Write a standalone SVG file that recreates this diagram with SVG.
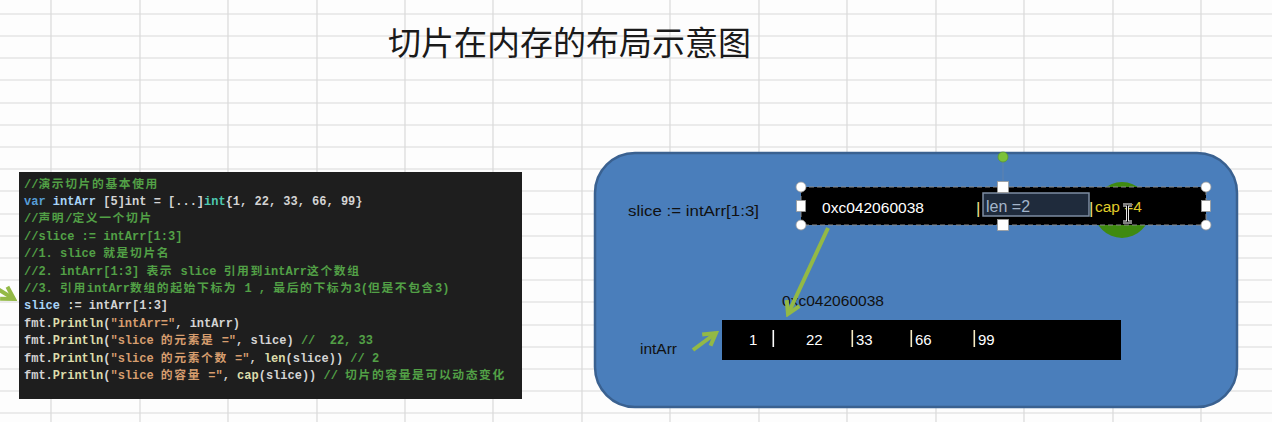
<svg xmlns="http://www.w3.org/2000/svg" width="1272" height="422" viewBox="0 0 1272 422">
<style>
.grid{stroke:#dadada;stroke-width:1.2;fill:none}
.code{font-family:"Liberation Mono","Noto Sans CJK SC",monospace;font-size:12px;font-weight:bold;fill:#d4d4d4}
.c{font-family:"Noto Sans CJK SC",sans-serif;font-size:11.8px;letter-spacing:1.6px;font-weight:bold}
.cm{fill:#52a046}
.kw{fill:#569cd6}
.id{fill:#a9d4f7}
.ty{fill:#4ec9b0}
.fn{fill:#dcdcaa}
.st{fill:#d69d6e}
.lbl{font-family:"Liberation Sans","Open Sans",sans-serif;font-size:15.5px;fill:#111}
.wt{font-family:"Liberation Sans","Open Sans",sans-serif;font-size:15.5px;fill:#fff}
.arr{stroke:#93b946;stroke-width:4;fill:none}
.hc{fill:#fff;stroke:#9a9a9a;stroke-width:0.8}
</style>
<defs>
<marker id="ah" viewBox="-15 -10 18 20" refX="0" refY="0" markerWidth="18" markerHeight="20" orient="auto" markerUnits="userSpaceOnUse">
<path d="M-12,-7 L0,0 L-12,7" fill="none" stroke="#93b946" stroke-width="4"/>
</marker>
</defs>
<rect width="1272" height="422" fill="#fdfdfd"/>
<g id="grid" class="grid">
<path d="M51,0V422M140,0V422M228,0V422M317,0V422M405,0V422M493,0V422M582,0V422M670,0V422M759,0V422M847,0V422M936,0V422M1024,0V422M1113,0V422M1201,0V422"/>
<path d="M0,14H1272M0,36H1272M0,58H1272M0,80H1272M0,103H1272M0,125H1272M0,147H1272M0,169H1272M0,191H1272M0,214H1272M0,236H1272M0,258H1272M0,280H1272M0,302H1272M0,325H1272M0,347H1272M0,369H1272M0,391H1272M0,413H1272"/>
</g>
<text id="title" x="388" y="55" font-family="'Noto Sans CJK SC',sans-serif" font-size="33" fill="#1a1a1a">切片在内存的布局示意图</text>
<g id="code">
<rect x="19" y="172" width="503" height="227" fill="#1e1e1e"/>
<text class="code" x="24" y="187.5"><tspan class="cm">//</tspan><tspan class="c cm">演示切片的基本使用</tspan></text>
<text class="code" x="24" y="205"><tspan class="kw">var</tspan> <tspan class="id">intArr</tspan> [5]int = [...]<tspan class="ty">int</tspan>{1, 22, 33, 66, 99}</text>
<text class="code" x="24" y="222.3"><tspan class="cm">//</tspan><tspan class="c cm">声明</tspan><tspan class="cm">/</tspan><tspan class="c cm">定义一个切片</tspan></text>
<text class="code" x="24" y="239.7"><tspan class="cm">//slice := intArr[1:3]</tspan></text>
<text class="code" x="24" y="257.1"><tspan class="cm">//1. slice </tspan><tspan class="c cm">就是切片名</tspan></text>
<text class="code" x="24" y="274.5"><tspan class="cm">//2. intArr[1:3] </tspan><tspan class="c cm">表示</tspan><tspan class="cm"> slice </tspan><tspan class="c cm">引用到</tspan><tspan class="cm">intArr</tspan><tspan class="c cm">这个数组</tspan></text>
<text class="code" x="24" y="291.9"><tspan class="cm">//3. </tspan><tspan class="c cm">引用</tspan><tspan class="cm">intArr</tspan><tspan class="c cm">数组的起始下标为</tspan><tspan class="cm"> 1 , </tspan><tspan class="c cm">最后的下标为</tspan><tspan class="cm">3(</tspan><tspan class="c cm">但是不包含</tspan><tspan class="cm">3)</tspan></text>
<text class="code" x="24" y="309.3"><tspan class="id">slice</tspan> := intArr[1:3]</text>
<text class="code" x="24" y="326.7">fmt.<tspan class="fn">Println</tspan>(<tspan class="st">"intArr="</tspan>, intArr)</text>
<text class="code" x="24" y="344.1">fmt.<tspan class="fn">Println</tspan>(<tspan class="st">"slice </tspan><tspan class="c st">的元素是</tspan><tspan class="st"> ="</tspan>, slice) <tspan class="cm">//&#160; 22, 33</tspan></text>
<text class="code" x="24" y="361.5">fmt.<tspan class="fn">Println</tspan>(<tspan class="st">"slice </tspan><tspan class="c st">的元素个数</tspan><tspan class="st"> ="</tspan>, <tspan class="fn">len</tspan>(slice)) <tspan class="cm">// 2</tspan></text>
<text class="code" x="24" y="378.9">fmt.<tspan class="fn">Println</tspan>(<tspan class="st">"slice </tspan><tspan class="c st">的容量</tspan><tspan class="st"> ="</tspan>, <tspan class="fn">cap</tspan>(slice)) <tspan class="cm">// </tspan><tspan class="c cm">切片的容量是可以动态变化</tspan></text>
</g>
<g id="memory">
<rect x="595" y="153" width="642" height="254" rx="40" ry="40" fill="#4a7ebb" stroke="#3a6190" stroke-width="2.5"/>
</g>
<g id="slice-label">
<text class="lbl" x="628" y="216" textLength="131" lengthAdjust="spacingAndGlyphs">slice := intArr[1:3]</text>
</g>
<g id="slice">
<line x1="1003" y1="157" x2="1003" y2="187" stroke="#5f82ad" stroke-width="1"/>
<circle cx="1122" cy="210" r="28" fill="#3f8a10"/>
<rect x="801" y="187" width="405" height="38" fill="#000"/>
<rect x="801" y="187" width="405" height="38" fill="none" stroke="#8a8a8a" stroke-width="1" stroke-dasharray="5 3"/>
<text class="wt" x="822" y="213" textLength="102" lengthAdjust="spacingAndGlyphs">0xc042060038</text>
<text x="976" y="214" font-family="'Liberation Sans',sans-serif" font-size="17" fill="#efe08a">|</text>
<rect x="983" y="193" width="106" height="23" fill="#1f2b3c" stroke="#7d8da2" stroke-width="1.5"/>
<text x="986" y="212" font-family="'Liberation Sans',sans-serif" font-size="16" fill="#a3b4ca">len =2</text>
<text x="1089" y="214" font-family="'Liberation Sans',sans-serif" font-size="17" fill="#efe08a">|</text>
<text x="1095" y="212" font-family="'Liberation Sans',sans-serif" font-size="15.5" fill="#e0cd2a">cap =4</text>
<path d="M1123,205H1132M1127.5,205V222M1123,222H1132" stroke="#fff" stroke-width="3" fill="none"/>
<path d="M1123,205H1132M1127.5,205V222M1123,222H1132" stroke="#000" stroke-width="1.2" fill="none"/>
<circle cx="1003" cy="157" r="5" fill="#7cc23a" stroke="#5c9a2a" stroke-width="0.8"/>
<circle class="hc" cx="801" cy="187" r="5"/>
<circle class="hc" cx="1206" cy="187" r="5"/>
<circle class="hc" cx="801" cy="225" r="5"/>
<circle class="hc" cx="1206" cy="225" r="5"/>
<rect class="hc" x="997.5" y="181.5" width="11" height="11"/>
<rect class="hc" x="997.5" y="219.5" width="11" height="11"/>
<rect class="hc" x="796.5" y="200.5" width="9" height="11"/>
<rect class="hc" x="1201.5" y="200.5" width="9" height="11"/>
</g>
<g id="intArr-address">
<text class="lbl" x="782" y="306" textLength="102" lengthAdjust="spacingAndGlyphs">0xc042060038</text>
</g>
<g id="intArr-label">
<text class="lbl" x="640" y="354">intArr</text>
</g>
<g id="intArr">
<rect x="722" y="320" width="399" height="40" fill="#000"/>
<g font-family="'Liberation Sans',sans-serif" font-size="15" fill="#fff">
<text x="749" y="345">1</text>
<rect x="772.5" y="330" width="1.6" height="17" fill="#fff"/>
<text x="806" y="345">22</text>
<rect x="851.5" y="330" width="1.6" height="17" fill="#f7ecc4"/><text x="856" y="345">33</text>
<rect x="910.5" y="330" width="1.6" height="17" fill="#f7ecc4"/><text x="915" y="345">66</text>
<rect x="973.5" y="330" width="1.6" height="17" fill="#f7ecc4"/><text x="978" y="345">99</text>
</g>
</g>
<g id="connectors">
<line class="arr" x1="828" y1="228" x2="788" y2="314" marker-end="url(#ah)"/>
<line class="arr" x1="693" y1="350" x2="716" y2="333" marker-end="url(#ah)"/>
<line class="arr" x1="-4" y1="288" x2="14" y2="299" marker-end="url(#ah)"/>
</g>
</svg>
